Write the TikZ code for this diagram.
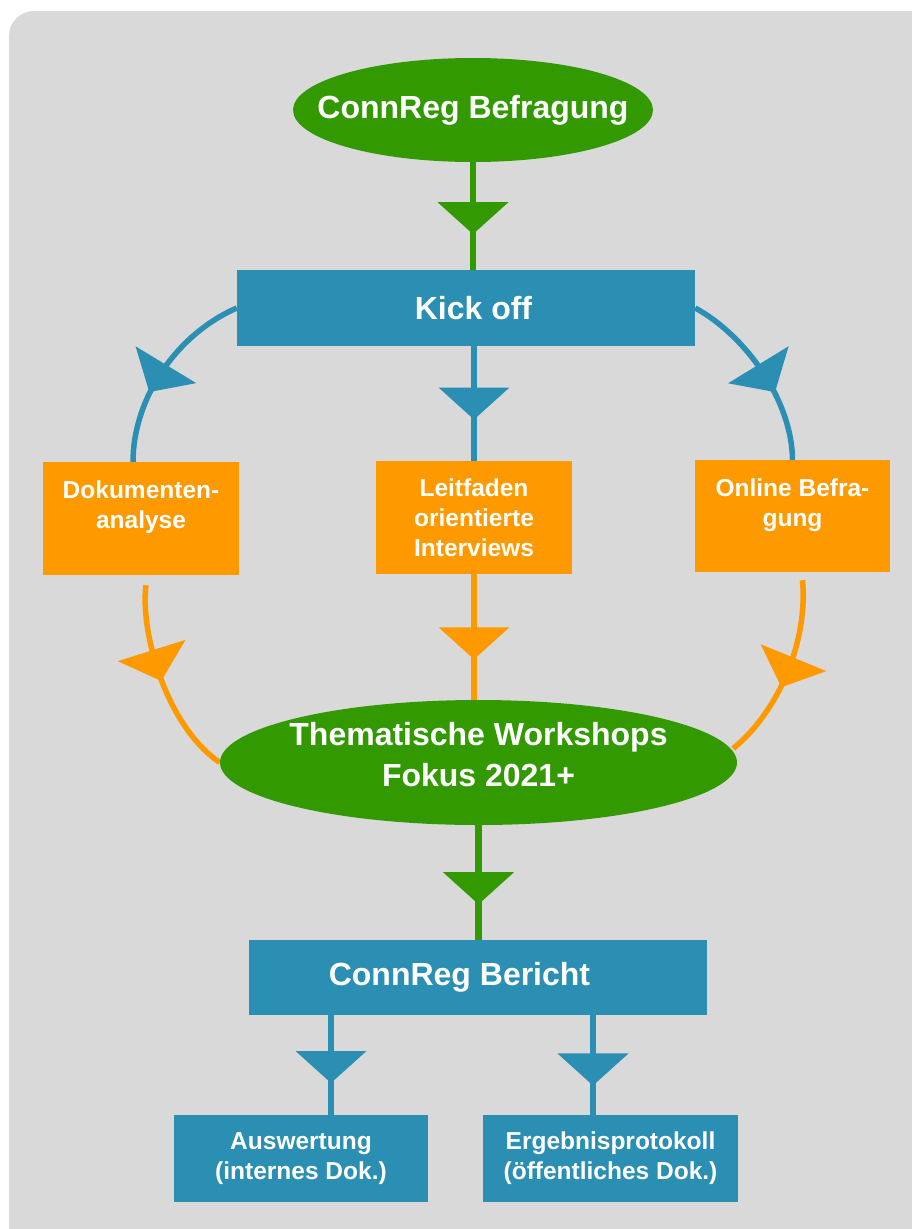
\documentclass[tikz,border=0pt]{standalone}
\usepackage{fontspec}
\setmainfont{Liberation Sans}
\usetikzlibrary{shapes.geometric,decorations.markings,calc}
\definecolor{cgreen}{RGB}{51,153,0}
\definecolor{cblue}{RGB}{43,143,179}
\definecolor{corange}{RGB}{255,153,0}
\definecolor{cbg}{RGB}{217,217,217}
\pgfdeclarelayer{back}
\pgfdeclarelayer{mid}
\pgfsetlayers{back,mid,main}
\begin{document}
\begin{tikzpicture}[x=1pt,y=-1pt,
  bigfont/.style={font=\fontsize{32}{40}\selectfont\bfseries},
  smallfont/.style={font=\fontsize{24.5}{30}\selectfont\bfseries},
  gell/.style={ellipse, fill=cgreen, text=white, inner sep=0pt, bigfont, align=center},
  bbox/.style={rectangle, fill=cblue, text=white, inner sep=0pt, align=center},
  obox/.style={rectangle, fill=corange, text=white, inner sep=0pt, align=center, smallfont, minimum width=196pt, minimum height=113pt},
  tri/.style={postaction={decorate}, decoration={markings, mark=at position #1 with {\fill (-16,35.5) -- (16,0) -- (-16,-35.5) -- cycle;}}},
  gline/.style={color=cgreen, line width=6.5pt},
  bline/.style={color=cblue, line width=5.5pt},
  oline/.style={color=corange, line width=5.5pt},
]
\useasboundingbox (0,0) rectangle (911,1229);
\begin{pgfonlayer}{back}
\fill[cbg, rounded corners=25pt] (9,11) rectangle (940,1260);
\end{pgfonlayer}

\node[gell, minimum width=360pt, minimum height=104pt] (befr) at (473,110) {\makebox[0pt]{ConnReg Befragung}};
\node[bbox, bigfont, minimum width=458pt, minimum height=76pt] (kick) at (466,308) {\hspace*{15pt}Kick off};
\node[obox] (dok) at (141,518.5) {Dokumenten-\\analyse\\[-12pt]\strut};
\node[obox] (leit) at (474,517.5) {Leitfaden\\orientierte\\Interviews};
\node[obox, minimum width=195pt, minimum height=112pt] (onl) at (792.5,516) {Online Befra-\\gung\\[-12pt]\strut};
\node[gell, minimum width=517pt, minimum height=125pt, font=\fontsize{32}{41}\selectfont\bfseries] (them) at (478.5,762.5) {\makebox[0pt]{Thematische Workshops}\\\makebox[0pt]{Fokus 2021+}\\[-25pt]\rule{0pt}{0pt}};
\node[bbox, bigfont, minimum width=458pt, minimum height=75pt] (ber) at (478,977.5) {ConnReg Bericht\hspace*{37pt}};
\node[bbox, smallfont, minimum width=254pt, minimum height=87pt] (ausw) at (301,1158.5) {Auswertung\\(internes Dok.)};
\node[bbox, smallfont, minimum width=255pt, minimum height=87pt] (erg) at (610.5,1158.5) {Ergebnisprotokoll\\(öffentliches Dok.)};

\begin{pgfonlayer}{mid}
\draw[gline, tri=0.52] (befr.south) -- (befr.south |- kick.north);
\draw[bline, tri=0.5] (leit.north |- kick.south) -- (leit.north);
\draw[bline, tri=0.55] (kick.west) .. controls (175,335) and (133,400) .. ($(dok.north)+(-8,0)$);
\draw[bline, tri=0.54] (kick.east) .. controls (745,335) and (792,400) .. (onl.north);
\draw[oline, tri=0.55] (leit.south) -- (leit.south |- them.north);
\draw[oline, tri=0.41] ($(dok.south)+(5,10)$) .. controls (140,630) and (165,725) .. (them.west);
\draw[oline, tri=0.5] ($(onl.south)+(10,8)$) .. controls (808,640) and (780,710) .. ($(them.east)+(-4,-14)$);
\draw[gline, tri=0.55] (them.south) -- (them.south |- ber.north);
\draw[bline, tri=0.52] ($(ausw.north |- ber.south)+(30,0)$) -- ($(ausw.north)+(30,0)$);
\draw[bline, tri=0.545] ($(erg.north |- ber.south)+(-17.5,0)$) -- ($(erg.north)+(-17.5,0)$);
\end{pgfonlayer}
\end{tikzpicture}
\end{document}
